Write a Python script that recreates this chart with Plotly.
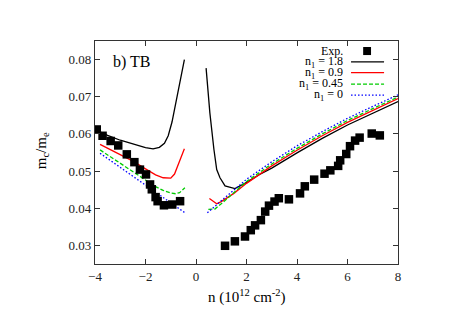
import plotly.graph_objects as go

# experimental points (n in 1e12 cm^-2, m_c/m_e)
exp_n = [-3.93, -3.70, -3.38, -3.08, -2.74, -2.44, -2.22, -1.98, -1.82, -1.75,
         -1.60, -1.52, -1.27, -0.94, -0.63,
         1.15, 1.54, 1.94, 2.17, 2.34, 2.57, 2.74, 2.89, 3.11, 3.28, 3.68,
         4.12, 4.31, 4.68, 5.09, 5.32, 5.63, 5.71, 5.95, 6.10, 6.30, 6.48,
         6.96, 7.28]
exp_m = [0.0612, 0.0595, 0.0581, 0.0569, 0.0545, 0.0524, 0.0504, 0.0491, 0.0464, 0.0451,
         0.0430, 0.0419, 0.0408, 0.0410, 0.0419,
         0.0299, 0.0311, 0.0324, 0.0341, 0.0354, 0.0368, 0.0391, 0.0407, 0.0418, 0.0427, 0.0424,
         0.0440, 0.0459, 0.0477, 0.0493, 0.0502, 0.0514, 0.0529, 0.0546, 0.0567, 0.0582, 0.0590,
         0.0601, 0.0596]

# TB calculations, hole side (n < 0) and electron side (n > 0)
n18_left = [-3.95, -3.5, -3.0, -2.5, -2.0, -1.7, -1.45, -1.25, -1.1, -0.95, -0.8, -0.7, -0.6, -0.46]
m18_left = [0.0610, 0.0596, 0.0583, 0.0572, 0.0563, 0.0560, 0.0564, 0.0575, 0.0595, 0.0632,
            0.0685, 0.0718, 0.0755, 0.0800]
n18_right = [0.40, 0.55, 0.71, 0.82, 0.95, 1.15, 1.54, 1.94, 2.5, 3.0, 4.0, 5.0, 6.0, 7.0, 8.0]
m18_right = [0.0777, 0.0656, 0.0558, 0.0504, 0.0482, 0.0460, 0.0453, 0.0467, 0.0490, 0.0508,
             0.0549, 0.0588, 0.0624, 0.0656, 0.0687]

n09_left = [-3.8, -3.0, -2.5, -2.0, -1.6, -1.3, -1.0, -0.85, -0.7, -0.55, -0.46]
m09_left = [0.0572, 0.0545, 0.0527, 0.0506, 0.0490, 0.0482, 0.0481, 0.0492, 0.0518, 0.0543, 0.0560]
n09_right = [0.53, 0.82, 1.0, 1.5, 2.0, 3.0, 4.0, 5.0, 6.0, 7.0, 8.0]
m09_right = [0.0426, 0.0412, 0.0418, 0.0440, 0.0467, 0.0514, 0.0556, 0.0595, 0.0631, 0.0663, 0.0695]

n045_left = [-3.8, -3.0, -2.5, -2.0, -1.6, -1.3, -1.0, -0.8, -0.65, -0.44]
m045_left = [0.0557, 0.0521, 0.0498, 0.0475, 0.0458, 0.0448, 0.0441, 0.0439, 0.0442, 0.0455]
n045_right = [0.49, 0.75, 1.0, 1.5, 2.0, 3.0, 4.0, 5.0, 6.0, 7.0, 8.0]
m045_right = [0.0397, 0.0398, 0.0412, 0.0443, 0.0472, 0.0519, 0.0561, 0.0600, 0.0636, 0.0668, 0.0699]

n0_left = [-3.8, -3.0, -2.0, -1.0, -0.44]
m0_left = [0.0548, 0.0510, 0.0462, 0.0414, 0.0388]
n0_right = [0.45, 1.0, 1.5, 2.0, 3.0, 4.0, 5.0, 6.0, 7.0, 8.0]
m0_right = [0.0388, 0.0420, 0.0450, 0.0478, 0.0525, 0.0568, 0.0606, 0.0642, 0.0674, 0.0705]

x_ticks = [-4, -2, 0, 2, 4, 6, 8]
y_ticks = [0.03, 0.04, 0.05, 0.06, 0.07, 0.08]

legend_labels = ["Exp.", "n<sub>1</sub> = 1.8", "n<sub>1</sub> = 0.9",
                 "n<sub>1</sub> = 0.45", "n<sub>1</sub> = 0"]

FONT = "Times New Roman, Liberation Serif, Times, serif"
styles = [
    ("black", "solid"),
    ("#ff0000", "solid"),
    ("#00cc00", "4px,2px"),
    ("#0000ff", "1.5px,2px"),
]
curves = [
    (n18_left, m18_left, n18_right, m18_right),
    (n09_left, m09_left, n09_right, m09_right),
    (n045_left, m045_left, n045_right, m045_right),
    (n0_left, m0_left, n0_right, m0_right),
]

fig = go.Figure()
for (xl, yl, xr, yr), (col, dash) in zip(curves, styles):
    for xs, ys in ((xl, yl), (xr, yr)):
        fig.add_trace(go.Scatter(x=xs, y=ys, mode="lines",
                                 line=dict(color=col, width=1.3, dash=dash),
                                 showlegend=False))

fig.add_trace(go.Scatter(x=exp_n, y=exp_m, mode="markers",
                         marker=dict(symbol="square", size=8.5, color="black"),
                         showlegend=False))

# gnuplot-style key: text right-aligned, sample on the right
row_y = [0.955, 0.906, 0.858, 0.807, 0.757]
annotations = []
shapes = []
for i, (lab, yy) in enumerate(zip(legend_labels, row_y)):
    annotations.append(dict(x=0.825, y=yy, xref="paper", yref="paper", text=lab,
                            showarrow=False, xanchor="right", yanchor="middle",
                            font=dict(family=FONT, size=12, color="black")))
    if i == 0:
        shapes.append(dict(type="rect", xref="paper", yref="paper",
                           x0=0.885, x1=0.911, y0=yy - 0.018, y1=yy + 0.018,
                           fillcolor="black", line=dict(width=0)))
    else:
        col, dash = styles[i - 1]
        shapes.append(dict(type="line", xref="paper", yref="paper",
                           x0=0.845, x1=0.954, y0=yy, y1=yy,
                           line=dict(color=col, width=1.3, dash=dash)))

annotations.append(dict(x=0.053, y=0.905, xref="paper", yref="paper", text="b) TB",
                        showarrow=False, xanchor="left", yanchor="middle",
                        font=dict(family=FONT, size=16, color="black")))
annotations.append(dict(x=0.5, y=-0.145, xref="paper", yref="paper",
                        text="n (10<sup>12</sup> cm<sup>-2</sup>)",
                        showarrow=False, xanchor="center", yanchor="middle",
                        font=dict(family=FONT, size=15, color="black")))
annotations.append(dict(x=-0.175, y=0.51, xref="paper", yref="paper",
                        text="m<sub>c</sub>/m<sub>e</sub>", textangle=-90,
                        showarrow=False, xanchor="center", yanchor="middle",
                        font=dict(family=FONT, size=15, color="black")))

axis_common = dict(showgrid=False, zeroline=False, showline=True, linecolor="#333333",
                   linewidth=1.2, mirror="ticks", ticks="inside", ticklen=5,
                   tickcolor="#333333", tickwidth=1,
                   tickfont=dict(family=FONT, size=13, color="#222222"))

# the page body adds an 8 px offset, so margins are shifted by that amount
fig.update_layout(
    width=457, height=323,
    margin=dict(l=87, r=67, t=33, b=67),
    plot_bgcolor="white", paper_bgcolor="white",
    xaxis=dict(range=[-4, 8], tickvals=x_ticks, **axis_common),
    yaxis=dict(range=[0.025, 0.085], tickvals=y_ticks, tickformat=".2f", **axis_common),
    annotations=annotations, shapes=shapes,
)

fig.write_html("out.html")
